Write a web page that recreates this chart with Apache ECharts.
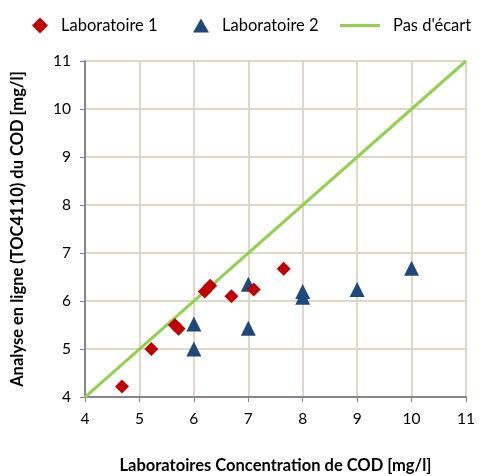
<!DOCTYPE html>
<html>
<head>
<meta charset="utf-8">
<script src="https://cdn.jsdelivr.net/npm/echarts@6/dist/echarts.min.js"></script>
<style>
  html, body { margin: 0; padding: 0; background: #fff; }
  #chart { width: 480px; height: 476px; }
</style>
</head>
<body>
<div id="chart"></div>
<script>
// Laboratoire 1 (x = labo, y = en ligne)
const labo1X = [4.68, 5.22, 5.65, 5.72, 6.2, 6.3, 6.69, 7.1, 7.65];
const labo1Y = [4.22, 5.0, 5.5, 5.42, 6.2, 6.32, 6.1, 6.24, 6.67];
// Laboratoire 2
const labo2X = [6.0, 6.0, 7.0, 7.0, 8.0, 8.0, 9.0, 10.0];
const labo2Y = [5.52, 5.0, 6.35, 5.43, 6.2, 6.08, 6.24, 6.68];
// Pas d'écart
const lineX = [4, 11];
const lineY = [4, 11];

const font = 'Lato, "Open Sans", sans-serif';
const zip = (xs, ys) => xs.map((x, i) => [x, ys[i]]);
const legendText = { fontSize: 16.5, color: '#000', fontFamily: font, padding: [0, 0, 0, 8] };

const chart = echarts.init(document.getElementById('chart'));
chart.setOption({
  animation: false,
  textStyle: { fontFamily: font },
  legend: [
    {
      left: 27, top: 12, itemWidth: 16, itemHeight: 16, textStyle: legendText,
      data: [{ name: 'Laboratoire 1', icon: 'diamond', itemStyle: { color: '#C00000' } }]
    },
    {
      left: 188, top: 12, itemWidth: 16, itemHeight: 14, textStyle: legendText,
      data: [{ name: 'Laboratoire 2', icon: 'triangle', itemStyle: { color: '#1F497D' } }]
    },
    {
      left: 335, top: 12, itemWidth: 40, itemHeight: 3, textStyle: legendText,
      data: [{ name: "Pas d'écart", icon: 'rect', itemStyle: { color: '#92D050' } }]
    }
  ],
  grid: { left: 85, right: 14, top: 61, bottom: 79, outerBoundsMode: 'none' },
  xAxis: {
    type: 'value', min: 4, max: 11, interval: 1,
    name: 'Laboratoires Concentration de COD [mg/l]',
    nameLocation: 'middle', nameGap: 60,
    nameTextStyle: { fontSize: 16.5, fontWeight: 'bold', color: '#000', fontFamily: font },
    axisLine: { lineStyle: { color: '#868686', width: 2 } },
    axisTick: { show: true, length: 5, lineStyle: { color: '#868686' } },
    axisLabel: { fontSize: 15.5, color: '#000', margin: 14 },
    splitLine: { lineStyle: { color: '#DDD9C4', width: 2 } }
  },
  yAxis: {
    type: 'value', min: 4, max: 11, interval: 1,
    name: 'Analyse en ligne (TOC4110) du COD [mg/l]',
    nameLocation: 'middle', nameGap: 59,
    nameTextStyle: { fontSize: 16.5, fontWeight: 'bold', color: '#000', fontFamily: font },
    axisLine: { show: true, lineStyle: { color: '#868686', width: 2 } },
    axisTick: { show: true, length: 5, lineStyle: { color: '#868686' } },
    axisLabel: { fontSize: 15.5, color: '#000', margin: 14 },
    splitLine: { lineStyle: { color: '#DDD9C4', width: 2 } }
  },
  series: [
    {
      name: "Pas d'écart", type: 'line', data: zip(lineX, lineY),
      symbol: 'none', z: 1,
      lineStyle: { color: '#92D050', width: 3 },
      itemStyle: { color: '#92D050' }
    },
    {
      name: 'Laboratoire 1', type: 'scatter', data: zip(labo1X, labo1Y),
      symbol: 'diamond', symbolSize: 14, z: 3,
      itemStyle: { color: '#C00000', opacity: 1 }
    },
    {
      name: 'Laboratoire 2', type: 'scatter', data: zip(labo2X, labo2Y),
      symbol: 'triangle', symbolSize: 15, z: 2,
      itemStyle: { color: '#1F497D', opacity: 1 }
    }
  ]
});
</script>
</body>
</html>
